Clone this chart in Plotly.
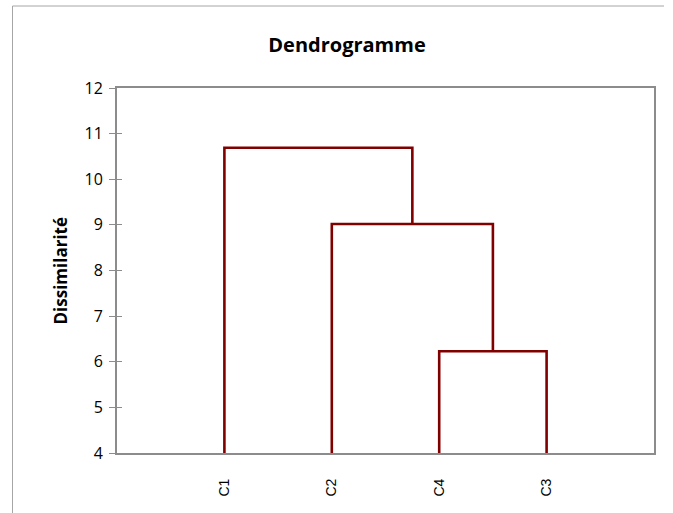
import plotly.graph_objects as go

# Leaf order along the x axis
leaves = ["C1", "C2", "C4", "C3"]
leaf_base = 4.0

# Agglomeration steps: (left member, right member, dissimilarity at merge)
merge_left = ["C4", "C2", "C1"]
merge_right = ["C3", "G1", "G2"]
merge_height = [6.23, 9.02, 10.69]

y_ticks = [4, 5, 6, 7, 8, 9, 10, 11, 12]

W, H = 673, 513
ML, MR, MT, MB = 117, 19, 88, 60
LINE_COLOR = "#800000"

# Node positions: leaves at 1..n, clusters at the midpoint of their children
pos = {name: (i + 1, leaf_base) for i, name in enumerate(leaves)}
xs, ys = [], []
for k, (a, b, h) in enumerate(zip(merge_left, merge_right, merge_height)):
    xa, ya = pos[a]
    xb, yb = pos[b]
    xs += [xa, xa, xb, xb, None]
    ys += [ya, h, h, yb, None]
    pos[f"G{k + 1}"] = ((xa + xb) / 2, h)

fig = go.Figure()
fig.add_trace(go.Scatter(
    x=xs, y=ys, mode="lines",
    line=dict(color=LINE_COLOR, width=2.6),
    hoverinfo="skip", showlegend=False,
))
# invisible companion trace so the overlaid axis (inner tick marks) is drawn
fig.add_trace(go.Scatter(
    x=[0], y=[4], yaxis="y2", mode="markers",
    marker=dict(opacity=0), hoverinfo="skip", showlegend=False,
))

axis_gray = "#8c8c8c"

fig.update_layout(
    width=W, height=H,
    margin=dict(l=ML, r=MR, t=MT, b=MB),
    paper_bgcolor="white", plot_bgcolor="white",
    title=dict(
        text="<b>Dendrogramme</b>",
        font=dict(family="Open Sans", size=20, color="black"),
        xref="container", x=347 / W, xanchor="center",
        yref="container", y=1 - 45 / H, yanchor="middle",
    ),
    xaxis=dict(
        range=[0, len(leaves) + 1],
        tickmode="array",
        tickvals=list(range(1, len(leaves) + 1)),
        ticktext=leaves,
        tickangle=-90,
        ticks="",
        ticklabelstandoff=18,
        tickfont=dict(family="Liberation Sans", size=14, color="black"),
        showgrid=False, zeroline=False,
        showline=True, linecolor=axis_gray, linewidth=2, mirror=True,
    ),
    yaxis=dict(
        range=[4, 12],
        tickmode="array", tickvals=y_ticks,
        ticks="outside", ticklen=6, tickwidth=1, tickcolor=axis_gray,
        ticklabelstandoff=3,
        tickfont=dict(family="Open Sans", size=16, color="black"),
        showgrid=False, zeroline=False,
        showline=True, linecolor=axis_gray, linewidth=2, mirror=True,
    ),
    yaxis2=dict(
        range=[4, 12], overlaying="y", side="left",
        tickmode="array", tickvals=y_ticks,
        ticks="inside", ticklen=5, tickwidth=1, tickcolor=axis_gray,
        showticklabels=False, showgrid=False, zeroline=False, showline=False,
    ),
    annotations=[dict(
        text="<b>Dissimilarité</b>",
        xref="paper", yref="paper",
        x=(60 - ML) / (W - ML - MR), y=0.5,
        xanchor="center", yanchor="middle",
        textangle=-90, showarrow=False,
        font=dict(family="Open Sans", size=17, color="black"),
    )],
)

# chart-area frame (left and top edges)
pw, ph = W - ML - MR, H - MT - MB
def px_x(p):
    return (p - ML) / pw
def px_y(p):
    return (H - MB - p) / ph

border = "#a6a6a6"
fig.add_shape(type="line", xref="paper", yref="paper",
              x0=px_x(12.5), x1=px_x(12.5), y0=px_y(6), y1=px_y(513),
              line=dict(color=border, width=1))
fig.add_shape(type="line", xref="paper", yref="paper",
              x0=px_x(12.5), x1=px_x(664), y0=px_y(6), y1=px_y(6),
              line=dict(color=border, width=1))

fig.write_html("out.html")
